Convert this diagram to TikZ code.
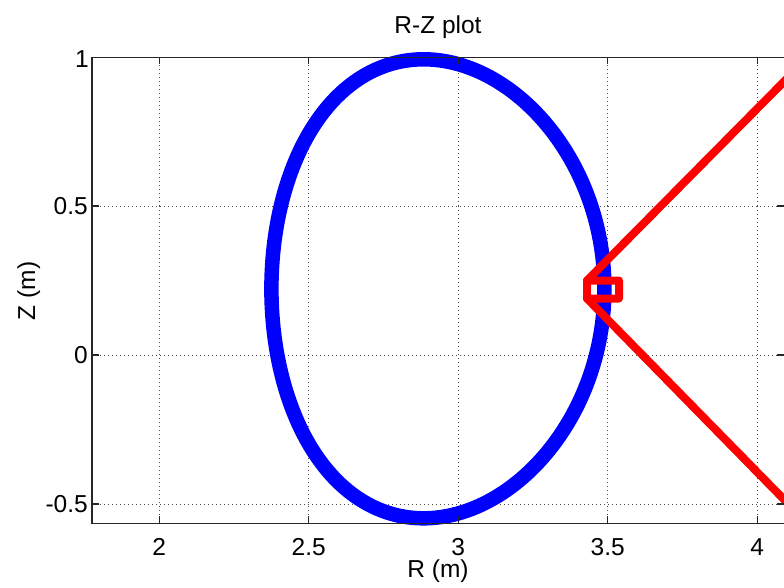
\documentclass[tikz,border=0pt]{standalone}
\usepackage{fontspec}
\setmainfont{Liberation Sans}
\begin{document}
\begin{tikzpicture}[x=1pt,y=-1pt,
  gridline/.style={draw=gray!60!black, line width=0.8pt, dash pattern=on 1pt off 3pt},
  axisline/.style={draw=black!85, line width=1.3pt},
  tickmark/.style={draw=black!85, line width=1.2pt},
  lab/.style={inner sep=0pt, font=\fontsize{24.5}{29}\selectfont},
  plasma/.style={draw={rgb,255:red,0;green,0;blue,255}, line width=14.5pt},
  sight/.style={draw={rgb,255:red,255;green,0;blue,0}, line width=8pt, line join=round, line cap=round}]
\useasboundingbox (0,0) rectangle (784,588);
% grid
\foreach \gx in {159.2,308.7,458.3,607.7,757.2}
  \draw[gridline] (\gx,57.5) -- (\gx,523.3);
\foreach \gy in {206,355,504}
  \draw[gridline] (92,\gy) -- (784,\gy);
% plasma boundary
\draw[plasma] plot[domain=0:358, samples=180, smooth cycle, variable=\t]
  ({437.9+166.5*cos(\t+4.93*sin(\t))}, {288.8-229.5*sin(\t)});
% sight lines and box
\coordinate (u) at (800,65.4);
\coordinate (l) at (800,515.8);
\coordinate (c1) at (587,280.5);
\coordinate (c2) at (619,280.5);
\coordinate (c3) at (619,298.5);
\coordinate (c4) at (587,298.5);
\begin{scope}
  \clip (0,0) rectangle (784,588);
  \draw[sight] (u) -- (c1) -- (c2) -- (c3) -- (c4) -- (l);
  \draw[sight] (c4) -- (c1);
\end{scope}
% axes
\draw[axisline] (784,57.5) -- (92,57.5) -- (92,523.3) -- (784,523.3);
\foreach \gx in {159.2,308.7,458.3,607.7,757.2} {
  \draw[tickmark] (\gx,523.3) -- (\gx,516.3);
  \draw[tickmark] (\gx,57.5) -- (\gx,64.5);
}
\foreach \gy in {57.5,206,355,504} {
  \draw[tickmark] (92,\gy) -- (99,\gy);
  \draw[tickmark] (784,\gy) -- (777,\gy);
}
% tick labels
\node[lab, anchor=base] (x2)  at (159.2,555) {2};
\node[lab, anchor=base] (x25) at (308.7,555) {2.5};
\node[lab, anchor=base] (x3)  at (458.3,555) {3};
\node[lab, anchor=base] (x35) at (607.7,555) {3.5};
\node[lab, anchor=base] (x4)  at (757.2,555) {4};
\node[lab, anchor=east] (y1)  at (89,59) {1};
\node[lab, anchor=east] (y05) at (88,206) {0.5};
\node[lab, anchor=east] (y0)  at (88,355) {0};
\node[lab, anchor=east] (ym05) at (88,504) {-0.5};
% axis labels and title
\node[lab, anchor=base] (xl) at (438,577) {R (m)};
\node[lab, anchor=base, rotate=90] (yl) at (35,291) {Z (m)};
\node[lab, anchor=base] (title) at (438,33.3) {R-Z plot};
\end{tikzpicture}
\end{document}
